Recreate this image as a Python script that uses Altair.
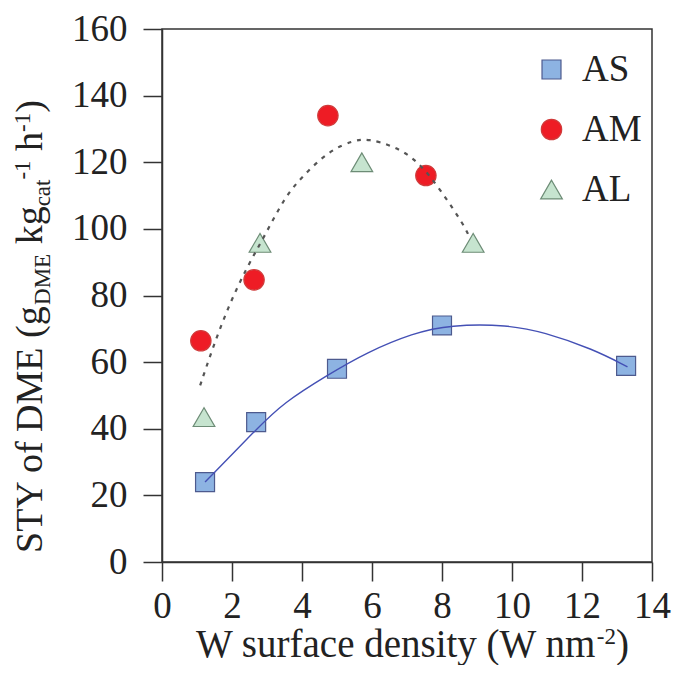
import altair as alt
import pandas as pd

FONT = "Liberation Serif"
INK = "#222222"

# ---- data ----
series_names = ["AS", "AM", "AL"]
as_x = [1.23, 2.69, 5.0, 8.0, 13.26]
as_y = [24.0, 42.0, 58.0, 71.0, 58.9]
am_x = [1.11, 2.63, 4.74, 7.54]
am_y = [66.4, 84.7, 134.0, 116.0]
al_x = [1.2, 2.8, 5.71, 8.89]
al_y = [43.5, 95.8, 120.0, 95.8]

# fitted trend curves
as_fit_x = [1.23, 2.71, 3.46, 4.71, 5.86, 7.17, 8.23, 9.89, 10.9, 12.3, 13.3]
as_fit_y = [24.0, 40.0, 47.7, 56.0, 63.0, 68.7, 71.2, 71.2, 69.0, 64.0, 58.6]
aml_fit_x = [1.09, 1.43, 1.89, 2.43, 2.94, 3.51, 4.03, 4.8, 5.51, 5.89, 6.6, 7.29, 7.94, 8.66, 8.78]
aml_fit_y = [53.0, 63.7, 76.6, 88.6, 98.0, 109.6, 116.0, 123.7, 126.7, 127.0, 125.0, 120.7, 112.0, 100.6, 97.5]

x_ticks = list(range(0, 15))
y_ticks = list(range(0, 161, 20))

fill_colors = ["#8db3e2", "#ee1c25", "#c6e4cf"]
stroke_colors = ["#4d5a8e", "#d03a3a", "#6d8c76"]
shapes = ["square", "circle", "triangle-up"]
sizes = [360, 470, 620]

# ---- tables ----
pts = pd.DataFrame(
    {"x": as_x + am_x + al_x,
     "y": as_y + am_y + al_y,
     "series": ["AS"] * len(as_x) + ["AM"] * len(am_x) + ["AL"] * len(al_x)}
)
fit_as = pd.DataFrame({"x": as_fit_x, "y": as_fit_y})
fit_aml = pd.DataFrame({"x": aml_fit_x, "y": aml_fit_y})

W, H = 490, 533
xs = alt.Scale(domain=[0, 14], nice=False, zero=False)
ys = alt.Scale(domain=[0, 160], nice=False)

axis_common = dict(
    grid=False, domainColor="#333333", domainWidth=1.5, tickColor="#333333",
    tickWidth=1.5, tickSize=19, labelFont=FONT, labelFontSize=37,
    labelColor=INK, title=None,
)
x_axis = alt.Axis(values=x_ticks, labelExpr="datum.value % 2 == 0 ? datum.label : ''",
                  labelPadding=7, labelFlush=False, labelOverlap=False, **axis_common)
y_axis = alt.Axis(values=y_ticks, labelPadding=16, **axis_common)

leg = alt.Legend(title=None, orient="none", legendX=371, legendY=22)
base = alt.Chart(pts)
points = base.mark_point(filled=True, opacity=1, strokeWidth=1.2).encode(
    x=alt.X("x:Q", scale=xs, axis=x_axis),
    y=alt.Y("y:Q", scale=ys, axis=y_axis),
    fill=alt.Fill("series:N", scale=alt.Scale(domain=series_names, range=fill_colors), legend=leg),
    stroke=alt.Stroke("series:N", scale=alt.Scale(domain=series_names, range=stroke_colors), legend=leg),
    shape=alt.Shape("series:N", scale=alt.Scale(domain=series_names, range=shapes), legend=leg),
    size=alt.Size("series:N", scale=alt.Scale(domain=series_names, range=sizes), legend=leg),
)

line_as = alt.Chart(fit_as).mark_line(color="#4450b5", strokeWidth=1.4, interpolate="basis").encode(
    x=alt.X("x:Q", scale=xs), y=alt.Y("y:Q", scale=ys))
line_aml = alt.Chart(fit_aml).mark_line(color="#555555", strokeWidth=2.2, strokeDash=[4, 6],
                                        interpolate="basis").encode(
    x=alt.X("x:Q", scale=xs), y=alt.Y("y:Q", scale=ys))

# ---- axis titles with sub/superscripts built from text pieces ----
CW = {'S': 556, 'T': 611, 'Y': 722, ' ': 250, 'o': 500, 'f': 333, 'D': 722, 'M': 889,
      'E': 611, '(': 333, 'g': 500, 'k': 500, 'c': 444, 'a': 444, 't': 278, '-': 333,
      '1': 500, 'h': 500, ')': 333, 'W': 944, 'u': 500, 'r': 333, 'e': 444, 'n': 500,
      's': 389, 'i': 278, 'y': 500, 'd': 500, 'm': 778, '2': 500}


def width(s, size):
    return sum(CW.get(c, 500) for c in s) / 1000.0 * size


def piece(text, x, y, size, angle=0):
    return alt.Chart(alt.Data(values=[{}])).mark_text(
        text=text, x=x, y=y, fontSize=size, font=FONT, color=INK,
        align="left", baseline="alphabetic", angle=angle)


MAIN, SMALL = 38, 23
SPACE = width(" ", MAIN)
ytitle = [("STY of DME (g", "n"), ("DME", "sub"), ("kg", "n", True), ("cat", "sub"),
          ("-1", "sup"), ("h", "n", True), ("-1", "sup"), (")", "n")]
ybase = -120
yshift = {"n": 0, "sub": 8, "sup": -12}
cur = 524
title_layers = []
for item in ytitle:
    txt, kind = item[0], item[1]
    if len(item) > 2:
        cur -= SPACE
    sz = MAIN if kind == "n" else SMALL
    title_layers.append(piece(txt, ybase + yshift[kind], cur, sz, angle=270))
    cur -= width(txt, sz)

xtitle = [("W surface density (W nm", "n"), ("-2", "sup"), (")", "n")]
xbase = 628
xshift = {"n": 0, "sup": -13}
cur = 34
for txt, kind in xtitle:
    sz = 39 if kind == "n" else SMALL
    title_layers.append(piece(txt, cur, xbase + xshift[kind], sz))
    cur += width(txt, sz)

chart = alt.layer(points, line_as, line_aml, *title_layers).properties(
    width=W, height=H,
    autosize=alt.AutoSizeParams(type="none"),
    padding={"left": 154, "top": 21, "right": 25, "bottom": 103},
).configure(background="white").configure_view(
    stroke="#333333", strokeWidth=1.5
).configure_legend(
    labelFont=FONT, labelFontSize=37, labelColor=INK, symbolStrokeWidth=1.2,
    rowPadding=22, labelOffset=12,
)

chart.save("out.html", embed_options={"renderer": "svg", "actions": False})
